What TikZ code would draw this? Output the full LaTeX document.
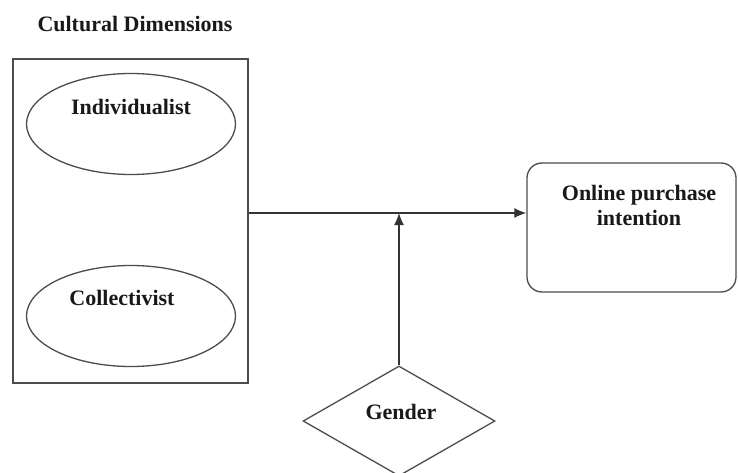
\documentclass[tikz,border=0pt]{standalone}
\usepackage{fontspec}
\setmainfont{Liberation Serif}
\usetikzlibrary{shapes.geometric,arrows.meta}
\begin{document}
\begin{tikzpicture}[x=1pt,y=-1pt,
  lbl/.style={font=\fontsize{22}{25}\selectfont\bfseries, inner sep=0pt, align=center, text=black!90},
  frame/.style={draw=black!70, line width=1.3pt},
  conn/.style={draw=black!80, line width=1.4pt, -{Latex[length=12pt,width=10pt]}}]
\useasboundingbox[fill=white] (0,0) rectangle (738,473);
\node[lbl] (title) at (135,24) {Cultural Dimensions};
\node[frame, rectangle, minimum width=235pt, minimum height=324pt, inner sep=0pt] (box) at (130.5,221) {};
\node[frame, ellipse, minimum width=209pt, minimum height=101pt, inner sep=0pt] (ind) at (131,124) {};
\node[lbl] (indt) at (131,107) {Individualist};
\node[frame, ellipse, minimum width=209pt, minimum height=101pt, inner sep=0pt] (col) at (131,316) {};
\node[lbl] (colt) at (122,298) {Collectivist};
\node[frame, rectangle, rounded corners=15pt, minimum width=209pt, minimum height=129pt, inner sep=0pt] (out) at (631.5,227.5) {};
\node[lbl] (outt) at (639,205) {Online purchase\\intention};
\node[frame, diamond, minimum width=192pt, minimum height=110pt, inner sep=0pt] (gen) at (399,421) {};
\node[lbl] (gent) at (401,412) {Gender};
\coordinate (j) at (399,213);
\draw[conn] (box.east |- j) -- (out.west |- j);
\draw[conn] (gen.north) -- (j);
\end{tikzpicture}
\end{document}
